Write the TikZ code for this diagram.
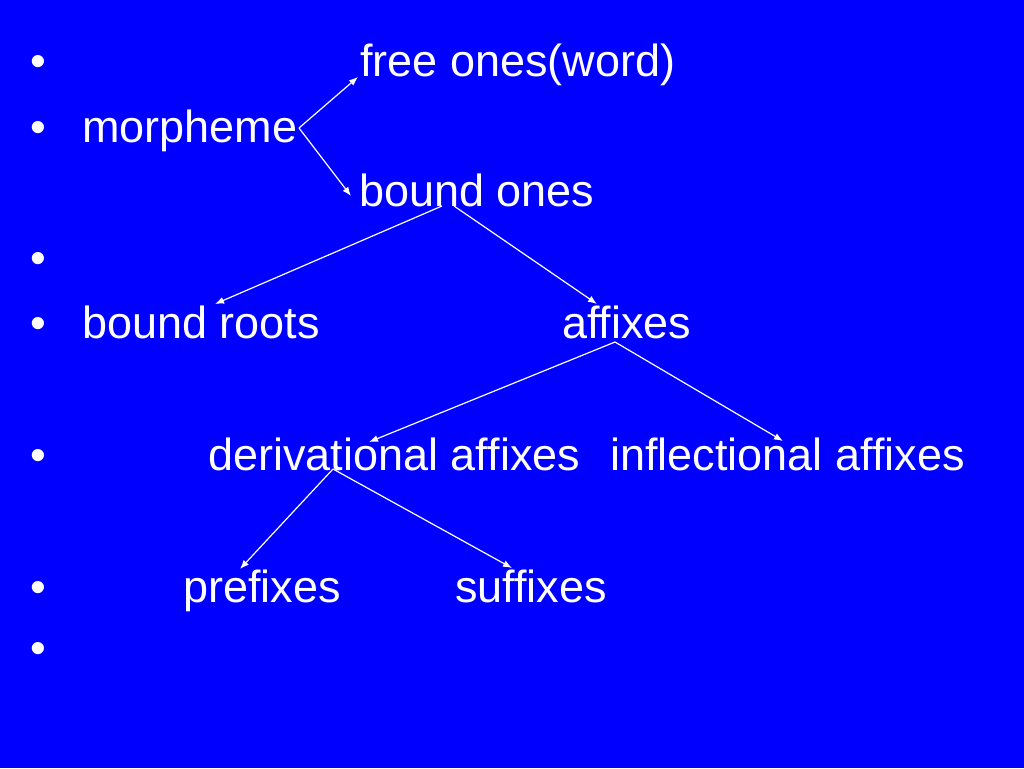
\documentclass[tikz,border=0pt]{standalone}
\usepackage{fontspec}
\setmainfont{Liberation Sans}
\usetikzlibrary{arrows.meta}
\definecolor{slideblue}{RGB}{0,0,255}
\begin{document}
\begin{tikzpicture}[x=1pt,y=-1pt,
  txt/.style={anchor=base west,inner sep=0pt,text=white,font=\fontsize{45}{54}\selectfont},
  arr/.style={draw=white,line width=1.2pt,-{Latex[length=9pt,width=7pt]}}]
\fill[slideblue] (0,0) rectangle (1024,768);
\useasboundingbox (0,0) rectangle (1024,768);
% bullets
\node[txt] (b1) at (30,77) {•};
\node[txt] (b2) at (30,142) {•};
\node[txt] (b3) at (30,273) {•};
\node[txt] (b4) at (30,338) {•};
\node[txt] (b5) at (30,470) {•};
\node[txt] (b6) at (30,602) {•};
\node[txt] (b7) at (30,663) {•};
% texts
\node[txt] (free) at (360,77) {free ones(word)};
\node[txt] (morph) at (82,142) {morpheme};
\node[txt] (bound) at (359,206) {bound ones};
\node[txt] (roots) at (82,338) {bound roots};
\node[txt] (affix) at (562,338) {affixes};
\node[txt] (deriv) at (208,470) {derivational affixes};
\node[txt] (infl) at (610,470) {inflectional affixes};
\node[txt] (pref) at (183,602) {prefixes};
\node[txt] (suff) at (455,602) {suffixes};
% connector points
\coordinate (mA) at (299,128);
\coordinate (freeT) at (358,77);
\coordinate (boundT) at (351,196);
\coordinate (bA) at (442,206);
\coordinate (bB) at (454,206);
\coordinate (rootsT) at (215,304);
\coordinate (affT) at (597,304);
\coordinate (aA) at (615,342);
\coordinate (derT) at (369,442);
\coordinate (infT) at (783,441);
\coordinate (dA) at (333,469);
\coordinate (prefT) at (240,569);
\coordinate (suffT) at (512,568);
\draw[arr] (mA) -- (freeT);
\draw[arr] (mA) -- (boundT);
\draw[arr] (bA) -- (rootsT);
\draw[arr] (bB) -- (affT);
\draw[arr] (aA) -- (derT);
\draw[arr] (aA) -- (infT);
\draw[arr] (dA) -- (prefT);
\draw[arr] (dA) -- (suffT);
\end{tikzpicture}
\end{document}
